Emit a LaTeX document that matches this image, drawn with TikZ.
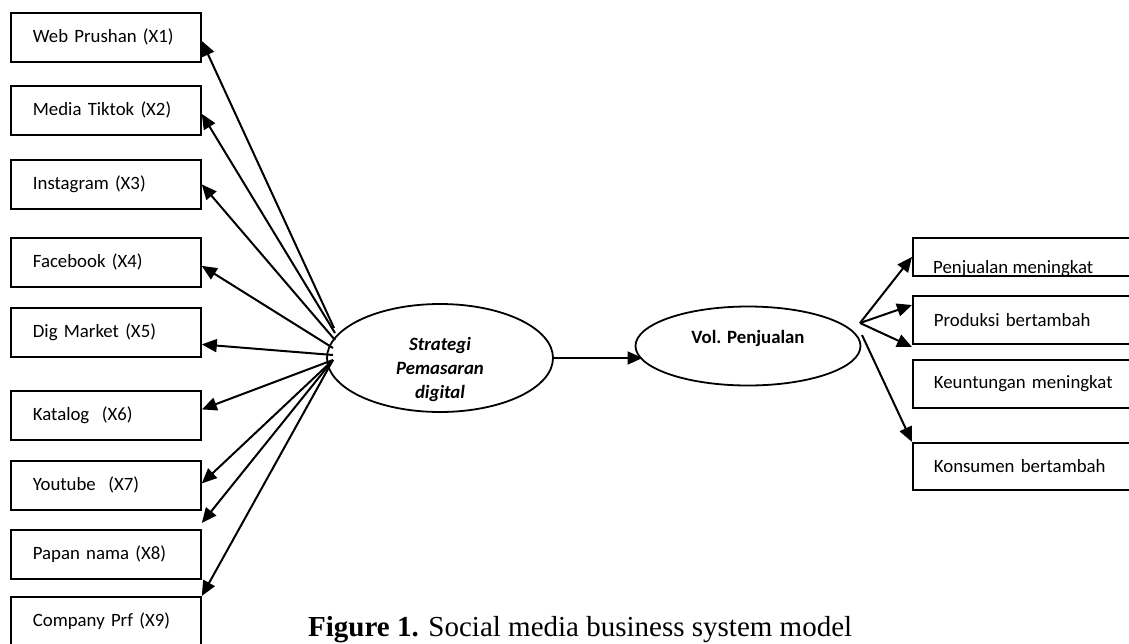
\documentclass[tikz,border=0pt]{standalone}
\usepackage{fontspec}
\setmainfont{Carlito}
\newfontfamily\capfont{Liberation Serif}
\usetikzlibrary{arrows.meta,calc,shapes.geometric}
\begin{document}
\begin{tikzpicture}[x=1pt,y=-1pt,
  txt/.style={font=\fontsize{18.8pt}{22pt}\selectfont},
  lbox/.style={draw,line width=1.8pt,rectangle,minimum height=49pt,text width=146pt,
    inner xsep=22pt,inner ysep=0pt,align=left,anchor=north west,txt},
  rbox/.style={draw,line width=1.8pt,rectangle,minimum height=48pt,text width=260pt,
    inner xsep=21pt,inner ysep=0pt,align=left,anchor=north west,txt},
  oval/.style={draw,line width=1.8pt,ellipse,inner sep=0pt},
  arr/.style={line width=2pt,-{Triangle[length=15pt,width=13pt]}}]
\useasboundingbox (0,0) rectangle (1129,643);
\clip (0,0) rectangle (1129,643);
\fill[white] (0,0) rectangle (1129,643);

% left boxes
\node[lbox] (b1) at (10,12) {Web Prushan (X1)};
\node[lbox] (b2) at (10,85) {Media Tiktok (X2)};
\node[lbox] (b3) at (10,159) {Instagram (X3)};
\node[lbox] (b4) at (10,237) {Facebook (X4)};
\node[lbox] (b5) at (10,307) {Dig Market (X5)};
\node[lbox] (b6) at (10,390) {Katalog~ (X6)};
\node[lbox] (b7) at (10,460) {Youtube~ (X7)};
\node[lbox] (b8) at (10,529) {Papan nama (X8)};
\node[lbox] (b9) at (10,596) {Company Prf (X9)};

% ellipses
\node[oval,minimum width=226pt,minimum height=108pt] (strat) at (440,358) {};
\node[font=\bfseries\itshape\fontsize{18.8pt}{24pt}\selectfont,align=center] (strattxt) at (440,369) {Strategi\\Pemasaran\\digital};
\node[oval,minimum width=225pt,minimum height=79pt] (vol) at (748,346) {};
\node[font=\bfseries\fontsize{18.8pt}{22pt}\selectfont] (voltxt) at (748,338) {Vol. Penjualan};

% right boxes
\node[draw,line width=1.8pt,rectangle,minimum height=38pt,minimum width=300pt,anchor=north west,inner sep=0pt] (p1) at (912,237) {};
\begin{scope}
\clip (912,237) rectangle (1129,274);
\node[txt,anchor=base west,inner sep=0pt] (p1txt) at (933,273) {Penjualan meningkat};
\end{scope}
\node[rbox] (p2) at (912,295) {Produksi bertambah};
\node[rbox] (p3) at (912,359) {Keuntungan meningkat};
\node[rbox,minimum height=47pt] (p4) at (912,442) {Konsumen bertambah};

% source points
\coordinate (s1) at (334,328);
\coordinate (s2) at (335,333);
\coordinate (s3) at (335,340);
\coordinate (s4) at (333,348);
\coordinate (s5) at (333,355);
\coordinate (s6) at (333,360);
\coordinate (v1) at (860,323);
\coordinate (v2) at (862,335);

% left arrows
\draw[arr] (s1) -- ($(b1.east)+(0,3.5)$);
\draw[arr] (s2) -- ($(b2.east)+(0,3.5)$);
\draw[arr] (s3) -- (b3.east);
\draw[arr] (s4) -- ($(b4.east)+(0,3.5)$);
\draw[arr] (s5) -- ($(b5.east)+(0,12)$);
\draw[arr] (s6) -- ($(b6.east)+(0,-6)$);
\draw[arr] (s6) -- ($(b7.east)+(0,-2)$);
\draw[arr] (s6) -- ($(b8.north east)+(0,-6)$);
\draw[arr] (s6) -- (b9.north east);

% middle arrow
\draw[arr] (strat.east) -- (strat.east -| vol.188);

% right arrows
\draw[arr] (v1) -- (p1.west);
\draw[arr] (v1) -- ($(p2.north west)+(0,10)$);
\draw[arr] (v1) -- ($(p3.north west)+(0,-12)$);
\draw[arr] (v2) -- (p4.north west);

% caption
\node[anchor=base west,inner sep=0pt,font=\capfont\fontsize{29pt}{34pt}\selectfont] (cap) at (308,636) {\textbf{Figure 1.} Social media business system model};
\end{tikzpicture}
\end{document}
